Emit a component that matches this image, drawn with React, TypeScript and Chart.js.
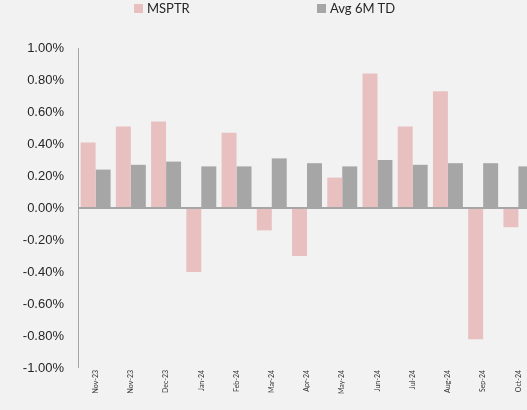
import React, { useEffect, useRef } from "react";
import { Chart, registerables } from "chart.js";

Chart.register(...registerables);

const categories = ["Nov-23", "Nov-23", "Dec-23", "Jan-24", "Feb-24", "Mar-24", "Apr-24", "May-24", "Jun-24", "Jul-24", "Aug-24", "Sep-24", "Oct-24"];
const msptr = [0.41, 0.51, 0.54, -0.40, 0.47, -0.14, -0.30, 0.19, 0.84, 0.51, 0.73, -0.82, -0.12];
const avg6mtd = [0.24, 0.27, 0.29, 0.26, 0.26, 0.31, 0.28, 0.26, 0.30, 0.27, 0.28, 0.28, 0.26];
const seriesNames = ["MSPTR", "Avg 6M TD"];
const seriesColors = ["#E8C0C0", "#A6A6A6"];

export default function App() {
  const ref = useRef<HTMLCanvasElement | null>(null);
  useEffect(() => {
    if (!ref.current) return;
    const chart = new Chart(ref.current, {
      type: "bar",
      data: {
        labels: categories,
        datasets: [
          { label: seriesNames[0], data: msptr, backgroundColor: seriesColors[0], categoryPercentage: 0.85, barPercentage: 1.0 },
          { label: seriesNames[1], data: avg6mtd, backgroundColor: seriesColors[1], categoryPercentage: 0.85, barPercentage: 1.0 },
        ],
      },
      options: {
        animation: false,
        responsive: false,
        maintainAspectRatio: false,
        layout: { padding: { left: 0, right: 9, top: 48, bottom: 0 } },
        plugins: { legend: { display: false }, tooltip: { enabled: false } },
        scales: {
          x: {
            grid: { display: false, drawTicks: false },
            border: { display: false },
            ticks: {
              maxRotation: 90,
              minRotation: 90,
              autoSkip: false,
              padding: 2,
              color: "#333333",
              font: { family: "Lato", size: 7 },
            },
            afterFit: (s: any) => { s.height = 42; },
          },
          y: {
            min: -1,
            max: 1,
            grid: {
              drawTicks: false,
              color: (ctx: any) => (ctx.tick && ctx.tick.value === 0 ? "#A6A6A6" : "rgba(0,0,0,0)"),
              lineWidth: (ctx: any) => (ctx.tick && ctx.tick.value === 0 ? 2 : 0),
            },
            border: { display: true, color: "#A6A6A6", width: 1 },
            ticks: {
              stepSize: 0.2,
              padding: 14,
              color: "#262626",
              font: { family: "Liberation Sans", size: 13 },
              callback: (v: any) => Number(v).toFixed(2) + "%",
            },
            afterFit: (s: any) => { s.width = 78; },
          },
        },
      },
    });
    return () => chart.destroy();
  }, []);

  const legendText: React.CSSProperties = { position: "absolute", top: 0, fontFamily: "Lato", fontSize: 13, color: "#262626", lineHeight: "17px" };
  return (
    <div style={{ position: "fixed", left: 0, top: 0, width: 527, height: 410, overflow: "hidden", background: "#F2F2F2" }}>
      <canvas ref={ref} width={545} height={410} style={{ position: "absolute", left: 0, top: 0, width: 545, height: 410 }} />
      <div style={{ position: "absolute", left: 134, top: 4, width: 9, height: 9, background: seriesColors[0] }} />
      <div style={{ ...legendText, left: 147 }}>{seriesNames[0]}</div>
      <div style={{ position: "absolute", left: 317, top: 4, width: 9, height: 9, background: seriesColors[1] }} />
      <div style={{ ...legendText, left: 330 }}>{seriesNames[1]}</div>
    </div>
  );
}
